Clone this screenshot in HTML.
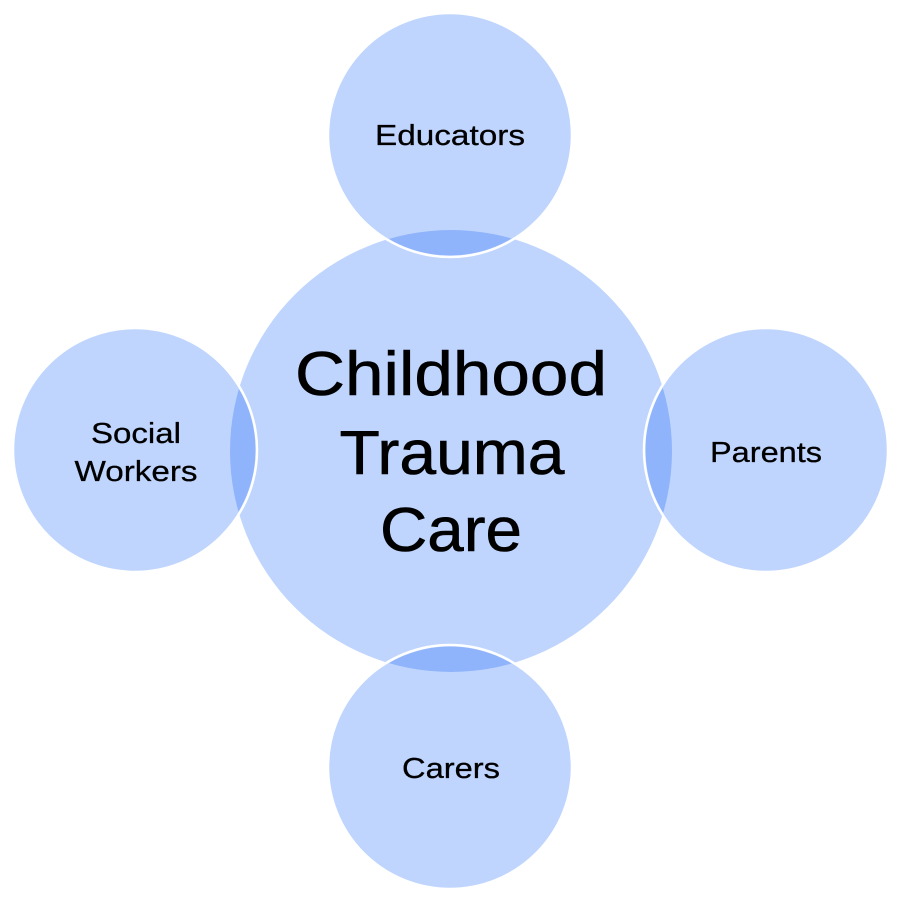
<!DOCTYPE html>
<html><head><meta charset="utf-8"><style>
html,body{margin:0;padding:0;background:#fff}
svg{display:block}
text{font-family:"Liberation Sans",sans-serif;fill:#000;text-anchor:middle}
</style></head><body>
<svg width="902" height="902" viewBox="0 0 902 902">
<defs>
<clipPath id="big"><circle cx="451" cy="451" r="221"/></clipPath>
</defs>
<circle cx="451" cy="451" r="221" fill="#bfd5fe"/>
<g fill="#bfd5fe" stroke="#fff" stroke-width="2.5">
<circle cx="450" cy="135" r="122"/>
<circle cx="135" cy="450" r="122"/>
<circle cx="766" cy="450" r="122"/>
<circle cx="450" cy="767" r="122"/>
</g>
<g fill="#8fb4fb" clip-path="url(#big)">
<circle cx="450" cy="135" r="120.5"/>
<circle cx="135" cy="450" r="120.5"/>
<circle cx="766" cy="450" r="120.5"/>
<circle cx="450" cy="767" r="120.5"/>
</g>
<g font-size="62" stroke="#000" stroke-width="0.6">
<text x="451" y="395" textLength="312" lengthAdjust="spacingAndGlyphs">Childhood</text>
<text x="452" y="474" textLength="225" lengthAdjust="spacingAndGlyphs">Trauma</text>
<text x="451" y="551" textLength="142" lengthAdjust="spacingAndGlyphs">Care</text>
</g>
<g font-size="29" stroke="#000" stroke-width="0.3">
<text x="450" y="145" textLength="150" lengthAdjust="spacingAndGlyphs">Educators</text>
<text x="136" y="443" textLength="90" lengthAdjust="spacingAndGlyphs">Social</text>
<text x="136" y="481" textLength="123" lengthAdjust="spacingAndGlyphs">Workers</text>
<text x="766" y="462" textLength="112" lengthAdjust="spacingAndGlyphs">Parents</text>
<text x="451" y="778" textLength="98" lengthAdjust="spacingAndGlyphs">Carers</text>
</g>
</svg>
</body></html>
